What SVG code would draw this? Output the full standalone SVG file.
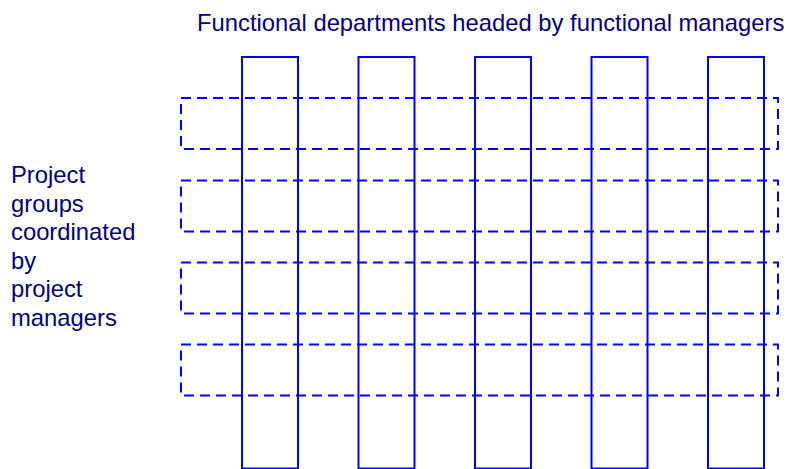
<svg xmlns="http://www.w3.org/2000/svg" width="789" height="469" viewBox="0 0 789 469">
<style>
.dept{fill:none;stroke:#0000FF;stroke-width:2}
.proj{fill:none;stroke:#0000FF;stroke-width:2;stroke-dasharray:10 6}
.lbl{font-family:"Liberation Sans",Arial,sans-serif;font-size:23.8px;fill:#000080}
</style>
<rect width="789" height="469" fill="#FFFFFF"/>
<g id="title"><text class="lbl" x="197" y="31">Functional departments headed by functional managers</text></g>
<g id="side-label">
<text class="lbl" x="11" y="183">Project</text>
<text class="lbl" x="11" y="211.5">groups</text>
<text class="lbl" x="11" y="240">coordinated</text>
<text class="lbl" x="11" y="268.5">by</text>
<text class="lbl" x="11" y="297">project</text>
<text class="lbl" x="11" y="325.5">managers</text>
</g>
<g id="departments">
<rect id="dept1" class="dept" x="242" y="57" width="56" height="411.5"/>
<rect id="dept2" class="dept" x="358.5" y="57" width="56" height="411.5"/>
<rect id="dept3" class="dept" x="475" y="57" width="56" height="411.5"/>
<rect id="dept4" class="dept" x="591.5" y="57" width="56" height="411.5"/>
<rect id="dept5" class="dept" x="708" y="57" width="56" height="411.5"/>
</g>
<g id="projects">
<rect id="proj1" class="proj" x="181" y="98" width="597" height="51"/>
<rect id="proj2" class="proj" x="181" y="180.5" width="597" height="51"/>
<rect id="proj3" class="proj" x="181" y="262.5" width="597" height="51"/>
<rect id="proj4" class="proj" x="181" y="344.5" width="597" height="51"/>
</g>
</svg>
